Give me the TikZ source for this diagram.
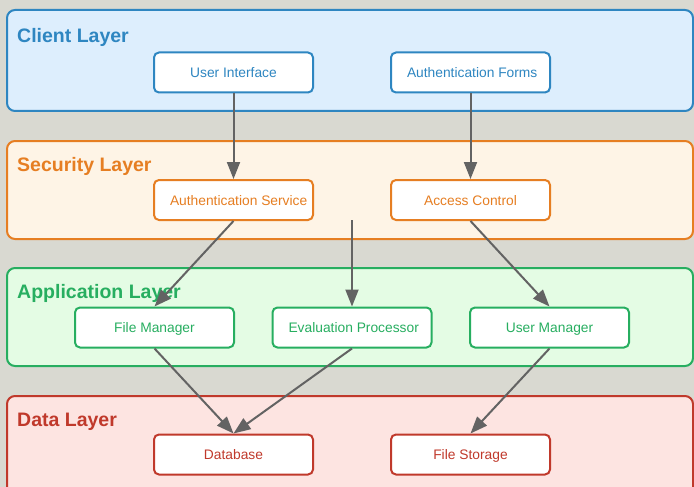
\documentclass[tikz,border=0pt]{standalone}
\usepackage{fontspec}
\setmainfont{Liberation Sans}
\usetikzlibrary{arrows.meta}
\definecolor{bgc}{HTML}{D9D9D1}
\definecolor{cliB}{HTML}{2E86C1}
\definecolor{cliF}{HTML}{DDEEFD}
\definecolor{secB}{HTML}{E67E22}
\definecolor{secF}{HTML}{FEF4E6}
\definecolor{appB}{HTML}{27AE60}
\definecolor{appF}{HTML}{E4FCE4}
\definecolor{datB}{HTML}{C0392B}
\definecolor{datF}{HTML}{FDE4E1}
\definecolor{arr}{HTML}{636363}
\tikzset{
  layerbox/.style={line width=2pt, rounded corners=8pt},
  layertitle/.style={anchor=base west, inner sep=0pt, font=\fontsize{19.5}{22}\selectfont\bfseries},
  nbox/.style={draw, fill=white, line width=2pt, rounded corners=5pt, minimum height=40pt, inner xsep=16pt, inner ysep=0pt, text height=13pt, text depth=3pt, font=\fontsize{13.8}{16}\selectfont},
  conn/.style={draw=arr, line width=2pt, -{Triangle[length=17pt,width=13pt]}}
}
\newcommand{\cbx}[1]{\makebox[127pt][c]{#1}}
\newcommand{\lbx}[1]{\makebox[127pt][l]{#1}}
\begin{document}
\begin{tikzpicture}[x=1pt,y=-1pt]
\useasboundingbox (0,0) rectangle (694,487);
\clip (0,0) rectangle (694,487);
\fill[bgc] (0,0) rectangle (694,487);
% layers
\draw[layerbox, draw=cliB, fill=cliF] (7,10) rectangle (693,111);
\node[layertitle, text=cliB] (tcl) at (17,43) {Client Layer};
\draw[layerbox, draw=secB, fill=secF] (7,141) rectangle (693,239);
\node[layertitle, text=secB] (tse) at (17,171.5) {Security Layer};
\draw[layerbox, draw=appB, fill=appF] (7,268) rectangle (693,366);
\node[layertitle, text=appB] (tap) at (17,298.5) {Application Layer};
\draw[layerbox, draw=datB, fill=datF] (7,396) rectangle (693,500);
\node[layertitle, text=datB] (tda) at (17,426) {Data Layer};
% nodes
\node[nbox, draw=cliB, text=cliB] (ui) at (233.5,72.5) {\cbx{User Interface}};
\node[nbox, draw=cliB, text=cliB] (af) at (470.5,72.5) {\lbx{Authentication Forms}};
\node[nbox, draw=secB, text=secB] (as) at (233.5,200) {\lbx{Authentication Service}};
\node[nbox, draw=secB, text=secB] (ac) at (470.5,200) {\cbx{Access Control}};
\node[nbox, draw=appB, text=appB] (fm) at (154.5,327.5) {\cbx{File Manager}};
\node[nbox, draw=appB, text=appB] (ep) at (352,327.5) {\lbx{Evaluation Processor}};
\node[nbox, draw=appB, text=appB] (um) at (549.5,327.5) {\cbx{User Manager}};
\node[nbox, draw=datB, text=datB] (db) at (233.5,454.5) {\cbx{Database}};
\node[nbox, draw=datB, text=datB] (fs) at (470.5,454.5) {\cbx{File Storage}};
\coordinate (evs) at (352,220);
% connectors
\draw[conn] (ui.south) -- (as.north);
\draw[conn] (af.south) -- (ac.north);
\draw[conn] (as.south) -- (fm.north);
\draw[conn] (evs) -- (ep.north);
\draw[conn] (ac.south) -- (um.north);
\draw[conn] (fm.south) -- (db.north);
\draw[conn] (ep.south) -- (db.north);
\draw[conn] (um.south) -- (fs.north);
\end{tikzpicture}
\end{document}
